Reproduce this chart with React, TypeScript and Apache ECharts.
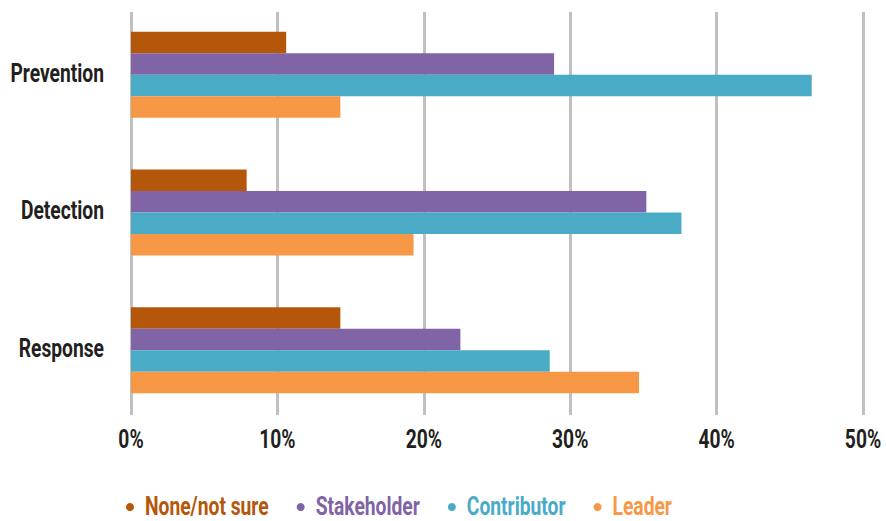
import React, { useEffect, useRef } from "react";
import * as echarts from "echarts";

const categories = ["Prevention", "Detection", "Response"];
const seriesNames = ["None/not sure", "Stakeholder", "Contributor", "Leader"];
const noneValues = [10.6, 7.9, 14.3];
const stakeholderValues = [28.9, 35.2, 22.5];
const contributorValues = [46.5, 37.6, 28.6];
const leaderValues = [14.3, 19.3, 34.7];
const xTicks = [0, 10, 20, 30, 40, 50];
const tickLabels = xTicks.map((t) => t + "%");

const colors = ["#B5570A", "#8164A5", "#4AABC7", "#F79846"];
const TEXT_COLOR = "#231F20";
const FONT = "Roboto, 'Liberation Sans', sans-serif";
const FONT_SIZE = 25;
const SX = 0.77;

function measure(text: string): number {
  const c = document.createElement("canvas").getContext("2d");
  if (!c) return text.length * 12;
  c.font = `bold ${FONT_SIZE}px Roboto`;
  return c.measureText(text).width;
}

export default function App() {
  const ref = useRef<HTMLDivElement>(null);
  useEffect(() => {
    if (!ref.current) return;
    const chart = echarts.init(ref.current, undefined, { renderer: "svg" });
    const values = [noneValues, stakeholderValues, contributorValues, leaderValues];
    chart.setOption({
      animation: false,
      textStyle: { fontFamily: FONT },
      grid: [
        { left: 131, right: 23, top: 6, bottom: 102, containLabel: false, outerBoundsMode: "none" },
        { left: 131, right: 23, top: 12, bottom: 106, containLabel: false, outerBoundsMode: "none" },
      ],
      xAxis: [
        { gridIndex: 0, type: "value", min: 0, max: 50, interval: 10, show: false },
        {
          gridIndex: 1,
          type: "value",
          min: xTicks[0],
          max: xTicks[xTicks.length - 1],
          interval: 10,
          axisLine: { show: false },
          axisTick: { show: false },
          axisLabel: { show: false },
          splitLine: { show: true, lineStyle: { color: "#C0C0C0", width: 3 } },
        },
      ],
      yAxis: [
        {
          gridIndex: 0,
          type: "category",
          data: categories,
          inverse: true,
          axisLine: { show: false },
          axisTick: { show: false },
          splitLine: { show: false },
          axisLabel: { show: false },
        },
        { gridIndex: 1, type: "category", data: categories, show: false },
      ],
      series: seriesNames.map((n, i) => ({
        name: n,
        type: "bar",
        xAxisIndex: 0,
        yAxisIndex: 0,
        data: values[i],
        barGap: "0%",
        barCategoryGap: "37.5%",
        itemStyle: { color: colors[i] },
        z: 5,
      })),
    });

    const textStyle = (text: string, color: string, align: string) => ({
      text,
      fill: color,
      font: `bold ${FONT_SIZE}px ${FONT}`,
      align,
      verticalAlign: "middle",
    });

    const graphics: any[] = [];
    // category labels (y axis)
    categories.forEach((c) => {
      const y = chart.convertToPixel({ yAxisIndex: 0 }, c) as number;
      graphics.push({
        type: "text",
        x: 104,
        y: y - 2,
        scaleX: SX,
        style: textStyle(c, TEXT_COLOR, "right"),
      });
    });
    // value tick labels (x axis)
    xTicks.forEach((t, i) => {
      const x = chart.convertToPixel({ xAxisIndex: 1 }, t) as number;
      graphics.push({
        type: "text",
        x,
        y: 439,
        scaleX: SX,
        style: textStyle(tickLabels[i], TEXT_COLOR, "center"),
      });
    });
    // legend
    let dotX = 130;
    seriesNames.forEach((n, i) => {
      graphics.push({
        type: "circle",
        shape: { cx: dotX, cy: 507, r: 4 },
        style: { fill: colors[i] },
      });
      const tx = dotX + 15;
      graphics.push({
        type: "text",
        x: tx,
        y: 506,
        scaleX: SX,
        style: textStyle(n, colors[i], "left"),
      });
      dotX = tx + measure(n) * SX + 32;
    });
    chart.setOption({ graphic: graphics });
    return () => chart.dispose();
  }, []);
  return (
    <div
      ref={ref}
      style={{ position: "absolute", left: 0, top: 0, width: 886, height: 521, background: "#fff" }}
    />
  );
}
